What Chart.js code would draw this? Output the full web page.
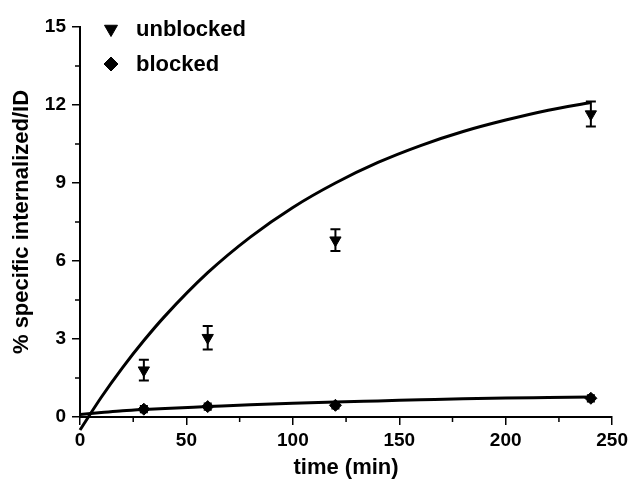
<!DOCTYPE html>
<html>
<head>
<meta charset="utf-8">
<script src="https://cdn.jsdelivr.net/npm/chart.js@4/dist/chart.umd.min.js"></script>
<style>
  html, body { margin: 0; padding: 0; background: #fff; }
  #wrap { width: 632px; height: 484px; }
</style>
</head>
<body>
<div id="wrap"><canvas id="c" width="632" height="484"></canvas></div>
<script>
// ---- data ----
const times = [30, 60, 120, 240];
const unblocked = [1.8, 3.05, 6.8, 11.65];
const unblockedErr = [0.4, 0.45, 0.42, 0.48];
const blocked = [0.3, 0.4, 0.45, 0.72];
const blockedErr = [0.12, 0.12, 0.12, 0.12];

// fitted curves
const fitT = [0, 10, 20, 30, 40, 60, 80, 100, 120, 140, 160, 180, 200, 220, 240];
const unblockedFit = [-0.5, 0.76, 1.9, 2.94, 3.89, 5.55, 6.92, 8.06, 9.0, 9.79, 10.44, 10.98, 11.42, 11.8, 12.1];
const blockedFit = [0.1, 0.17, 0.24, 0.29, 0.33, 0.4, 0.47, 0.53, 0.58, 0.62, 0.66, 0.7, 0.73, 0.75, 0.77];

const xTicks = [0, 50, 100, 150, 200, 250];
const xMinorTicks = [25, 75, 125, 175, 225];
const yTicks = [0, 3, 6, 9, 12, 15];
const yMinorTicks = [1.5, 4.5, 7.5, 10.5, 13.5];

const seriesNames = ['unblocked', 'blocked'];

const FONT = '"Liberation Sans", Arial, Helvetica, sans-serif';

const pts = (xs, ys) => xs.map((x, i) => ({ x: x, y: ys[i] }));

const errorBarPlugin = {
  id: 'errorBars',
  afterDatasetsDraw(chart) {
    const ctx = chart.ctx;
    const xs = chart.scales.x, ys = chart.scales.y;
    chart.data.datasets.forEach((ds) => {
      if (!ds.errors) return;
      ctx.save();
      ctx.strokeStyle = '#000';
      ctx.lineWidth = 2;
      ds.data.forEach((p, i) => {
        const e = ds.errors[i];
        const px = xs.getPixelForValue(p.x);
        const top = ys.getPixelForValue(p.y + e);
        const bot = ys.getPixelForValue(p.y - e);
        const cap = ds.capHalf;
        ctx.beginPath();
        ctx.moveTo(px, top); ctx.lineTo(px, bot);
        ctx.moveTo(px - cap, top); ctx.lineTo(px + cap, top);
        ctx.moveTo(px - cap, bot); ctx.lineTo(px + cap, bot);
        ctx.stroke();
      });
      ctx.restore();
    });
  }
};

const minorTickPlugin = {
  id: 'minorTicks',
  afterDraw(chart) {
    const ctx = chart.ctx;
    const xs = chart.scales.x, ys = chart.scales.y;
    const a = chart.chartArea;
    ctx.save();
    ctx.strokeStyle = '#000';
    ctx.lineWidth = 1.5;
    ctx.beginPath();
    xMinorTicks.forEach(v => {
      const px = xs.getPixelForValue(v);
      ctx.moveTo(px, a.bottom); ctx.lineTo(px, a.bottom + 5);
    });
    yMinorTicks.forEach(v => {
      const py = ys.getPixelForValue(v);
      ctx.moveTo(a.left, py); ctx.lineTo(a.left - 5, py);
    });
    ctx.stroke();
    ctx.restore();
  }
};

const legendPlugin = {
  id: 'insideLegend',
  afterDraw(chart) {
    const ctx = chart.ctx;
    const a = chart.chartArea;
    const items = [
      { ds: chart.data.datasets[2], name: seriesNames[0], dy: 2 },
      { ds: chart.data.datasets[3], name: seriesNames[1], dy: 37 }
    ];
    ctx.save();
    items.forEach(it => {
      const y = a.top + it.dy;
      ctx.fillStyle = '#000';
      ctx.strokeStyle = '#000';
      ctx.lineWidth = 1;
      Chart.helpers.drawPoint(ctx, {
        pointStyle: it.ds.pointStyle,
        rotation: it.ds.rotation || 0,
        radius: it.ds.legendRadius,
        borderWidth: 1
      }, a.left + 31, y);
      ctx.font = 'bold 22px ' + FONT;
      ctx.textBaseline = 'middle';
      ctx.textAlign = 'left';
      ctx.fillText(it.name, a.left + 56, y + 1);
    });
    ctx.restore();
  }
};

new Chart(document.getElementById('c'), {
  type: 'scatter',
  data: {
    datasets: [
      {
        type: 'line', label: seriesNames[0] + ' fit',
        data: pts(fitT, unblockedFit),
        borderColor: '#000', borderWidth: 3, pointRadius: 0,
        tension: 0.4, cubicInterpolationMode: 'monotone', fill: false, clip: false
      },
      {
        type: 'line', label: seriesNames[1] + ' fit',
        data: pts(fitT, blockedFit),
        borderColor: '#000', borderWidth: 3, pointRadius: 0,
        tension: 0.4, cubicInterpolationMode: 'monotone', fill: false, clip: false
      },
      {
        label: seriesNames[0],
        data: pts(times, unblocked),
        errors: unblockedErr, capHalf: 5,
        pointStyle: 'triangle', rotation: 180, pointRadius: 6.5, legendRadius: 7.5,
        backgroundColor: '#000', borderColor: '#000', borderWidth: 1
      },
      {
        label: seriesNames[1],
        data: pts(times, blocked),
        errors: blockedErr, capHalf: 4,
        pointStyle: 'rectRot', pointRadius: 6, legendRadius: 7,
        backgroundColor: '#000', borderColor: '#000', borderWidth: 1
      }
    ]
  },
  options: {
    responsive: false,
    animation: false,
    devicePixelRatio: 1,
    layout: { padding: { left: 0, top: 27, right: 17, bottom: 0 } },
    plugins: { legend: { display: false }, tooltip: { enabled: false } },
    scales: {
      x: {
        type: 'linear', min: 0, max: 250,
        afterBuildTicks: s => { s.ticks = xTicks.map(v => ({ value: v })); },
        afterFit: s => { s.height = 67; },
        ticks: { color: '#000', font: { family: FONT, size: 19, weight: 'bold' }, padding: 4, maxRotation: 0 },
        grid: { display: true, drawOnChartArea: false, drawTicks: true, tickLength: 8, color: '#000', tickWidth: 1.5, lineWidth: 1.5 },
        border: { display: true, color: '#000', width: 2 },
        title: { display: true, text: 'time (min)', color: '#000', font: { family: FONT, size: 22, weight: 'bold' }, padding: { top: 0, bottom: 3 } }
      },
      y: {
        type: 'linear', min: 0, max: 15,
        afterBuildTicks: s => { s.ticks = yTicks.map(v => ({ value: v })); },
        afterFit: s => { s.width = 80; },
        ticks: { color: '#000', font: { family: FONT, size: 19, weight: 'bold' }, padding: 6 },
        grid: { display: true, drawOnChartArea: false, drawTicks: true, tickLength: 8, color: '#000', tickWidth: 1.5, lineWidth: 1.5 },
        border: { display: true, color: '#000', width: 2 },
        title: { display: true, text: '% specific internalized/ID', color: '#000', font: { family: FONT, size: 22, weight: 'bold' }, padding: { top: 9, bottom: 0 } }
      }
    }
  },
  plugins: [errorBarPlugin, minorTickPlugin, legendPlugin]
});
</script>
</body>
</html>
